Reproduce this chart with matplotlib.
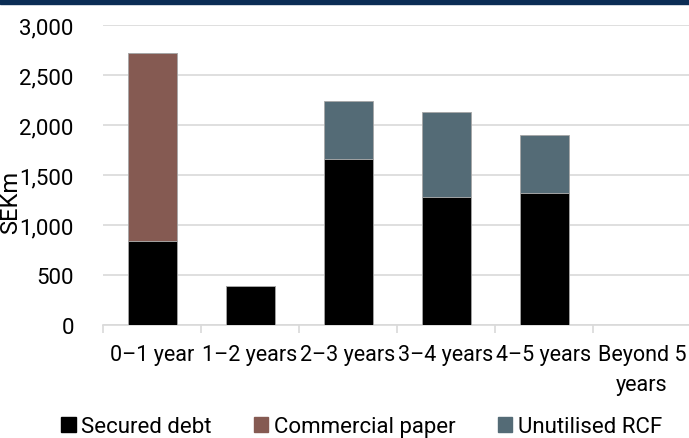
import matplotlib.pyplot as plt
import matplotlib.patches as mpatches
import numpy as np

plt.rcParams['font.family'] = ['Roboto', 'DejaVu Sans']

# Debt maturity profile, SEKm
categories = ["0–1 year", "1–2 years", "2–3 years", "3–4 years", "4–5 years", "Beyond 5\nyears"]
secured_debt = [840, 390, 1665, 1280, 1320, 0]
commercial_paper = [1880, 0, 0, 0, 0, 0]
unutilised_rcf = [0, 0, 580, 850, 580, 0]

colors = {"Secured debt": "#000000", "Commercial paper": "#855A52", "Unutilised RCF": "#546B76"}

fig = plt.figure(figsize=(6.89, 4.39), dpi=100)
ax = fig.add_axes([103 / 689, 1 - 326 / 439, 588 / 689, 300 / 439])

x = np.arange(len(categories))
series = [("Secured debt", secured_debt), ("Commercial paper", commercial_paper), ("Unutilised RCF", unutilised_rcf)]
bottom = np.zeros(len(categories))
for name, vals in series:
    vals = np.array(vals, dtype=float)
    ax.bar(x, vals, width=0.5, bottom=bottom, color=colors[name],
           edgecolor="#A6A6A6", linewidth=0.6, zorder=3)
    bottom += vals

ax.set_xlim(-0.5, len(categories) - 0.5)
ax.set_ylim(0, 3000)
ax.set_yticks(np.arange(0, 3001, 500))
ax.set_yticklabels([f"{v:,}" for v in range(0, 3001, 500)])
ax.grid(axis="y", color="#D9D9D9", linewidth=1.2, zorder=0)
ax.set_axisbelow(True)

for s in ["top", "right", "left"]:
    ax.spines[s].set_visible(False)
ax.spines["bottom"].set_color("#D9D9D9")
ax.spines["bottom"].set_linewidth(1.2)

ax.set_xticks(x)
ax.set_xticklabels(categories, fontsize=15.5, linespacing=1.55)
ax.set_xticks(np.arange(-0.5, len(categories), 1), minor=True)
ax.tick_params(axis="x", which="major", length=0, pad=14)
ax.tick_params(axis="x", which="minor", length=6, color="#D9D9D9", width=1.2)
ax.tick_params(axis="y", length=0, labelsize=16, pad=21)

ax.set_ylabel("SEKm", fontsize=17)
ax.yaxis.set_label_coords(-0.137, 0.413)

handles = [mpatches.Patch(color=c, label=n) for n, c in colors.items()]
fig.legend(handles=handles, loc="center", bbox_to_anchor=(0.525, 1 - 428 / 439),
           ncol=3, frameon=False, fontsize=16, handlelength=0.65, handleheight=0.65,
           handletextpad=0.25, columnspacing=1.9)

# dark band along the top edge
fig.add_artist(mpatches.Rectangle((0, 1 - 5 / 439), 1, 5 / 439, transform=fig.transFigure,
                                  color="#0B2D55", zorder=10))

fig.savefig("out.png", dpi=100)
